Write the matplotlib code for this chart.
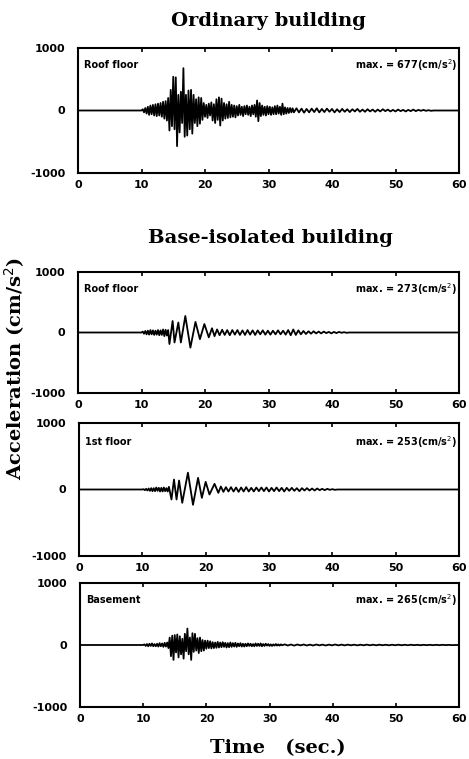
import numpy as np
import matplotlib
matplotlib.use("Agg")
import matplotlib.pyplot as plt

plt.rcParams["axes.unicode_minus"] = False

# ---- data (acceleration peaks, cm/s^2) ----
# ordinary building, roof floor: peaks every 0.2 s from 10 s, then 0.4 s tail
ord_start, ord_step = 10.0, 0.2
ord_vals = [0, 20, -30, 40, -50, 60,
            -70, 80, -60, 90, -80,
            100, -90, 110, -80, 120,
            -100, 140, -130, 150, -160,
            200, -320, 330, -250, 540,
            -300, 530, -570, 250, -350,
            300, -200, 677, -420, 250,
            -400, 320, -300, 330, -370,
            250, -200, 180, -250, 210,
            -210, 200, -150, 120, -100,
            90, -120, 110, -80, 130,
            -160, 100, -200, 180, -150,
            210, -240, 190, -160, 120,
            -130, 100, -120, 140, -110,
            90, -100, 80, -110, 70,
            -80, 90, -70, 60, -90,
            70, -60, 80, -70, 60,
            -90, 80, -60, 90, -100,
            160, -170, 120, -90, 80,
            -70, 60, -80, 70, -60,
            60, -70, 50, -60, 70,
            -60, 80, -50, 60, -70,
            110, -60, 50, -50, 40,
            -40, 40, -30, 35, -30]
ord_tail_start, ord_tail_step = 34.4, 0.4
ord_tail = [35, -30, 30, -35, 25, -30, 30, -25, 35, -30,
            25, -25, 30, -20, 25, -30, 20, -25, 25, -20,
            20, -25, 20, -15, 25, -20, 15, -20, 20, -15,
            15, -20, 15, -15, 20, -10, 15, -15, 10, -15,
            15, -10, 10, -15, 10, -10, 15, -10, 10, -5,
            10, -5, 5, -5, 0]

# base-isolated, roof floor
roof_noise_start, roof_noise_step = 10.0, 0.2
roof_noise = [0, 15, -20, 25, -30, 30, -35, 40, -30, 35, -40,
              30, -35, 40, -45, 35, -40, 50, -60, 45, -50, 40]
roof_pk_t = [14.4, 14.9, 15.2, 15.8, 16.2, 16.9, 17.7, 18.5, 19.2, 19.9, 20.6, 21.1]
roof_pk_a = [-190, 190, -165, 165, -165, 273, -250, 175, -110, 140, -80, 70]
roof_osc_start, roof_osc_step = 21.5, 0.4
roof_osc = [-60, 50, -45, 45, -40, 40, -45, 40, -35, 40,
            -40, 35, -40, 40, -35, 35, -40, 35, -30, 35,
            -35, 30, -35, 30, -30, 35, -30, 30, -35, 40,
            -45, 50, -40, 35, -30, 25, -25, 20, -20, 20,
            -15, 15, -15, 15, -10, 10, -15, 10, -10, 10,
            -5, 5, -5, 0]

# base-isolated, 1st floor
first_noise_start, first_noise_step = 10.0, 0.2
first_noise = [0, 5, -10, 10, -15, 15, -20, 20, -25, 20, -25,
               30, -20, 25, -30, 25, -30, 30, -25, 20, -30, 40]
first_pk_t = [14.6, 15.0, 15.4, 15.8, 16.3, 17.2, 18.0, 18.8, 19.4, 20.0, 20.6, 21.4, 22.0]
first_pk_a = [-150, 150, -150, 135, -200, 253, -230, 175, -125, 115, -75, 85, -50]
first_osc_start, first_osc_step = 22.4, 0.4
first_osc = [45, -35, 35, -30, 35, -30, 30, -35, 30, -30,
             35, -30, 25, -30, 30, -25, 30, -25, 30, -30,
             25, -25, 30, -25, 25, -30, 25, -20, 25, -20,
             20, -25, 20, -15, 20, -15, 15, -15, 15, -10,
             10, -10, 10, -5, 5, -5, 0]

# base-isolated, basement
base_start, base_step = 10.0, 0.2
base_vals = [0, 10, -15, 15, -20, 20, -15, 25, -20, 15, -20,
             20, -25, 30, -20, 25, -30, 35, -25, 40, -50,
             120, -180, 150, -240, 160, -120, 170, -200, 140, -150,
             100, -220, 180, -100, 265, -150, 120, -240, 190, -110,
             180, -90, 110, -130, 120, -100, 80, -90, 70, -60,
             70, -50, 60, -55, 45, -50, 40, -45, 50, -40,
             40, -35, 45, -30, 35, -40, 30, -35, 40, -30,
             30, -25, 35, -30, 25, -20, 30, -25, 20, -25,
             20, -20, 25, -15, 20, -20, 15, -20, 25, -15,
             20, -15, 25, -20, 15, -15, 20, -10, 15, -15,
             10, -15, 10, -10, 15, -10, 10, -10, 10, -5]
base_tail_start, base_tail_step = 32.4, 0.5
base_tail = [10, -8, 8, -10, 8, -6, 8, -8, 6, -8,
             8, -6, 6, -8, 6, -6, 8, -6, 6, -6,
             6, -5, 5, -6, 5, -5, 6, -5, 5, -5,
             5, -4, 4, -5, 4, -4, 5, -4, 4, -4,
             4, -3, 3, -4, 3, -3, 3, -3, 3, -3,
             3, -2, 2, -2, 0]

panel_names = ["Roof floor", "Roof floor", "1st floor", "Basement"]
max_values = [677, 273, 253, 265]
x_ticks = [0, 10, 20, 30, 40, 50, 60]
y_ticks = [-1000, 0, 1000]


def seg(start, step, vals):
    return start + step * np.arange(len(vals)), np.asarray(vals, float)


def build(*parts):
    t = np.concatenate([[0.0]] + [p[0] for p in parts] + [[60.0]])
    a = np.concatenate([[0.0]] + [p[1] for p in parts] + [[0.0]])
    return t, a


series = [
    build(seg(ord_start, ord_step, ord_vals),
          seg(ord_tail_start, ord_tail_step, ord_tail)),
    build(seg(roof_noise_start, roof_noise_step, roof_noise),
          (np.array(roof_pk_t), np.array(roof_pk_a, float)),
          seg(roof_osc_start, roof_osc_step, roof_osc)),
    build(seg(first_noise_start, first_noise_step, first_noise),
          (np.array(first_pk_t), np.array(first_pk_a, float)),
          seg(first_osc_start, first_osc_step, first_osc)),
    build(seg(base_start, base_step, base_vals),
          seg(base_tail_start, base_tail_step, base_tail)),
]

# ---- layout (pixel boxes: x0, top, x1, bottom) ----
W, H = 469, 759
boxes = [(78, 48, 459, 173), (78, 272, 459, 393),
         (79, 423, 459, 556), (80, 583, 459, 707)]

fig = plt.figure(figsize=(W / 100, H / 100), dpi=100)
serif = "DejaVu Serif"
sans = "DejaVu Sans"

for (x0, y0, x1, y1), (t, a), name, mx in zip(boxes, series, panel_names, max_values):
    ax = fig.add_axes([x0 / W, 1 - y1 / H, (x1 - x0) / W, (y1 - y0) / H])
    ax.plot(t, a, color="black", lw=1.3)
    ax.set_xlim(0, 60)
    ax.set_ylim(-1000, 1000)
    ax.set_xticks(x_ticks)
    ax.set_yticks(y_ticks)
    ax.tick_params(axis="x", direction="in", length=3, width=1.2, top=True,
                   labelsize=8, pad=5)
    ax.tick_params(axis="y", direction="in", length=0, labelsize=8, pad=9)
    for lab in ax.get_xticklabels() + ax.get_yticklabels():
        lab.set_fontfamily(sans)
        lab.set_fontweight("bold")
    for sp in ax.spines.values():
        sp.set_linewidth(1.5)
    ax.text(0.015, 0.86, name, transform=ax.transAxes, fontsize=7,
            fontweight="bold", family=sans, va="center")
    ax.text(0.995, 0.86, f"max. = {mx}(cm/s$^2$)", transform=ax.transAxes,
            fontsize=7, fontweight="bold", family=sans, va="center", ha="right")

fig.text(268 / W, 1 - 21 / H, "Ordinary building", ha="center", va="center",
         fontsize=14, fontweight="bold", family=serif)
fig.text(270 / W, 1 - 238 / H, "Base-isolated building", ha="center", va="center",
         fontsize=14, fontweight="bold", family=serif)
fig.text(278 / W, 1 - 748 / H, "Time   (sec.)", ha="center", va="center",
         fontsize=14, fontweight="bold", family=serif)
fig.text(15 / W, 1 - 368 / H, "Acceleration (cm/s$^2$)", ha="center", va="center",
         rotation=90, fontsize=14, fontweight="bold", family=serif)

fig.savefig("out.png", dpi=100)
